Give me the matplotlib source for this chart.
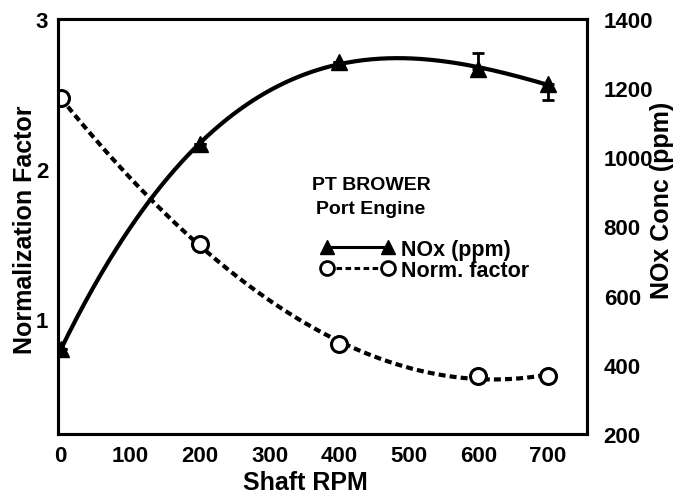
import matplotlib
matplotlib.use('Agg')
import matplotlib.pyplot as plt
import numpy as np
from matplotlib.lines import Line2D

# ---- data ----
rpm = [0, 200, 400, 600, 700]
nox_ppm = [445, 1038, 1275, 1255, 1212]
nox_err_low = [0, 0, 0, 0, 46]
nox_err_high = [0, 0, 0, 46, 0]
norm_factor = [2.47, 1.50, 0.83, 0.62, 0.62]
x_ticks = [0, 100, 200, 300, 400, 500, 600, 700]
left_ticks = [1, 2, 3]
right_ticks = [200, 400, 600, 800, 1000, 1200, 1400]

plt.rcParams['font.family'] = ['Liberation Sans', 'DejaVu Sans']
plt.rcParams['font.weight'] = 'bold'
plt.rcParams['lines.scale_dashes'] = False

W, H = 684, 502
fig = plt.figure(figsize=(W / 100, H / 100), dpi=100)
L, R, T, B = 58, 587, 20, 435
ax = fig.add_axes([L / W, 1 - B / H, (R - L) / W, (B - T) / H])
ax2 = ax.twinx()

ax.set_xlim(-4, 756)
ax.set_ylim(0.233, 3.0)
ax2.set_ylim(200, 1400)

# smooth fitted curves
xs = np.linspace(min(rpm), max(rpm), 300)
c_nox = np.polyfit(rpm, nox_ppm, 3)
c_norm = np.polyfit(rpm, norm_factor, 3)

ax2.plot(xs, np.polyval(c_nox, xs), color='black', lw=3.0, solid_capstyle='round')
ax2.errorbar(rpm, nox_ppm, yerr=[nox_err_low, nox_err_high], fmt='^', color='black',
             markersize=11, elinewidth=2.0, capsize=4, capthick=2.0)

ax.plot(xs, np.polyval(c_norm, xs), color='black', lw=3.0, dashes=(5, 3))
ax.plot(rpm, norm_factor, 'o', markersize=11.5, markerfacecolor='white',
        markeredgecolor='black', markeredgewidth=2.2, zorder=5)

ax.set_xticks(x_ticks)
ax.set_yticks(left_ticks)
ax2.set_yticks(right_ticks)

for a in (ax, ax2):
    for s in a.spines.values():
        s.set_linewidth(2.2)
    a.tick_params(length=0, labelsize=16)
ax.tick_params(axis='x', pad=8)
ax.tick_params(axis='y', pad=7)
ax2.tick_params(axis='y', pad=12)

ax.set_xlabel('Shaft RPM', fontsize=18, fontweight='bold', va='center')
ax.xaxis.set_label_coords((305 - L) / (R - L), -(483 - B) / (B - T))
ax.set_ylabel('Normalization Factor', fontsize=18, fontweight='bold', va='center')
ax.yaxis.set_label_coords((25 - L) / (R - L), 1 - (230 - T) / (B - T))
ax2.set_ylabel('NOx Conc (ppm)', fontsize=18, fontweight='bold', va='center')
ax2.yaxis.set_label_coords((662 - L) / (R - L), 1 - (200 - T) / (B - T))

fig.text(312 / W, 1 - 186 / H, 'PT BROWER', fontsize=14, fontweight='bold', va='center', ha='left')
fig.text(316 / W, 1 - 210 / H, 'Port Engine', fontsize=14, fontweight='bold', va='center', ha='left')

h1 = Line2D([], [], color='black', lw=2.2, marker='^', markersize=10)
h2 = Line2D([], [], color='black', lw=2.2, dashes=(4, 2.5), marker='o', markersize=10,
            markerfacecolor='white', markeredgewidth=2)
fig.legend([h1, h2], ['NOx (ppm)', 'Norm. factor'], loc='upper left',
           bbox_to_anchor=(321 / W, 1 - 240 / H), frameon=False, fontsize=15.5,
           numpoints=2, handlelength=3.4, handletextpad=0.3, labelspacing=0.0,
           borderpad=0, borderaxespad=0)

fig.savefig('out.png', dpi=100)
